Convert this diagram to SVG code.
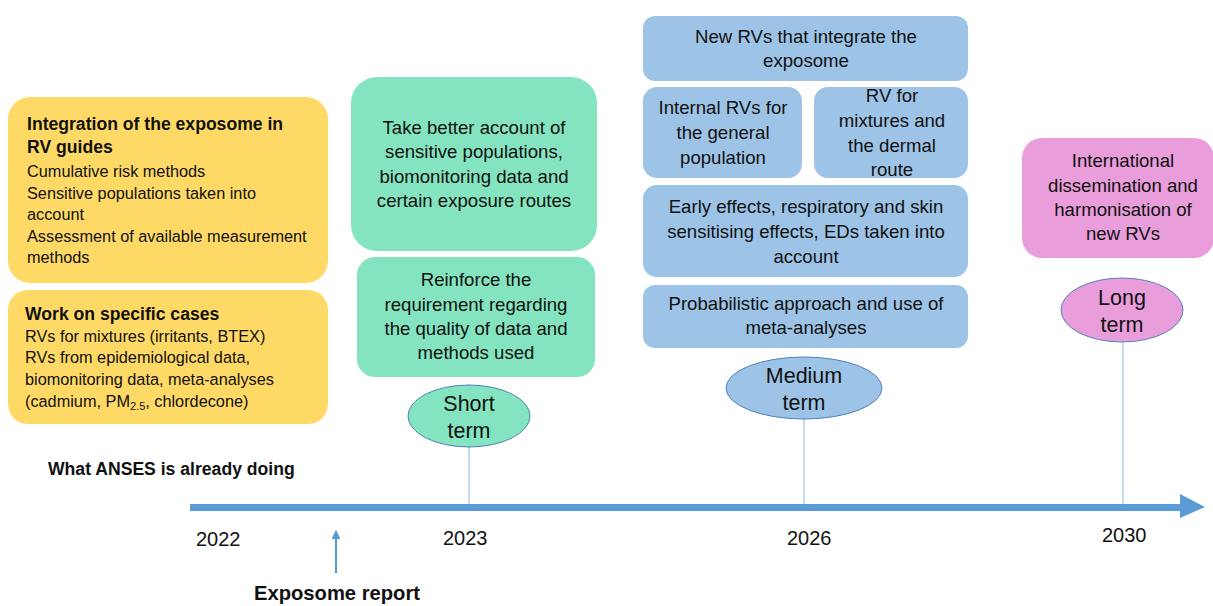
<svg xmlns="http://www.w3.org/2000/svg" width="1213" height="606" viewBox="0 0 1213 606">
<style>
text{font-family:"Liberation Sans",Arial,sans-serif;fill:#111;}
.y{fill:#FFD966;}
.g{fill:#84E4BF;}
.b{fill:#9DC3E6;}
.p{fill:#E99EDB;}
.lt{font-size:16.3px;}
.lb{font-size:17.6px;font-weight:bold;}
.c{font-size:18.6px;text-anchor:middle;}
.e{font-size:21.5px;text-anchor:middle;}
.yr{font-size:20px;}
.hd{font-size:17.6px;font-weight:bold;}
.hd2{font-size:20.2px;font-weight:bold;}
.ell{stroke:#4F81BD;stroke-width:1;}
.tick{stroke:#9DC3E6;stroke-width:1.2;}
</style>
<defs>
<marker id="ah" viewBox="0 0 10 10" refX="9" refY="5" markerWidth="4" markerHeight="4" orient="auto">
<path d="M0,0 L10,5 L0,10 z" fill="#5B9BD5"/>
</marker>
</defs>

<g id="connectors">
<rect x="190" y="504" width="991" height="7" fill="#5B9BD5"/>
<polygon points="1180,494 1205,507 1180,518" fill="#5B9BD5"/>
<line class="tick" x1="469" y1="447" x2="469" y2="504"/>
<line class="tick" x1="804" y1="419" x2="804" y2="504"/>
<line class="tick" x1="1123" y1="342" x2="1123" y2="504"/>
<line x1="336" y1="573" x2="336" y2="531" stroke="#5B9BD5" stroke-width="2.2" marker-end="url(#ah)"/>
</g>

<g id="already-integration">
<rect class="y" x="8" y="97" width="320" height="186" rx="22"/>
<text class="lb" x="27" y="130">Integration of the exposome in</text>
<text class="lb" x="27" y="153">RV guides</text>
<text class="lt" x="27" y="177">Cumulative risk methods</text>
<text class="lt" x="27" y="199">Sensitive populations taken into</text>
<text class="lt" x="27" y="220">account</text>
<text class="lt" x="27" y="242">Assessment of available measurement</text>
<text class="lt" x="27" y="263">methods</text>
</g>

<g id="already-cases">
<rect class="y" x="8" y="290" width="320" height="134" rx="20"/>
<text class="lb" x="25" y="320">Work on specific cases</text>
<text class="lt" x="25" y="342">RVs for mixtures (irritants, BTEX)</text>
<text class="lt" x="25" y="363">RVs from epidemiological data,</text>
<text class="lt" x="25" y="385">biomonitoring data, meta-analyses</text>
<text class="lt" x="25" y="407">(cadmium, PM<tspan font-size="11" dy="3">2.5</tspan><tspan dy="-3">, chlordecone)</tspan></text>
</g>

<g id="short-sensitive">
<rect class="g" x="351" y="77" width="246" height="174" rx="26"/>
<text class="c" x="474" y="134">Take better account of</text>
<text class="c" x="474" y="158">sensitive populations,</text>
<text class="c" x="474" y="183">biomonitoring data and</text>
<text class="c" x="474" y="207">certain exposure routes</text>
</g>

<g id="short-quality">
<rect class="g" x="357" y="257" width="238" height="120" rx="18"/>
<text class="c" x="476" y="286">Reinforce the</text>
<text class="c" x="476" y="311">requirement regarding</text>
<text class="c" x="476" y="335">the quality of data and</text>
<text class="c" x="476" y="359">methods used</text>
</g>

<g id="short-term">
<ellipse class="g ell" cx="469" cy="416" rx="61" ry="31"/>
<text class="e" x="469" y="411">Short</text>
<text class="e" x="469" y="438">term</text>
</g>

<g id="medium-new-rvs">
<rect class="b" x="643" y="16" width="325" height="65" rx="12"/>
<text class="c" x="806" y="43">New RVs that integrate the</text>
<text class="c" x="806" y="67">exposome</text>
</g>

<g id="medium-internal">
<rect class="b" x="643" y="87" width="159" height="91" rx="14"/>
<text class="c" x="723" y="114">Internal RVs for</text>
<text class="c" x="723" y="139">the general</text>
<text class="c" x="723" y="164">population</text>
</g>

<g id="medium-mixtures">
<rect class="b" x="814" y="87" width="154" height="91" rx="14"/>
<text class="c" x="892" y="102">RV for</text>
<text class="c" x="892" y="127">mixtures and</text>
<text class="c" x="892" y="152">the dermal</text>
<text class="c" x="892" y="176">route</text>
</g>

<g id="medium-effects">
<rect class="b" x="643" y="185" width="325" height="92" rx="14"/>
<text class="c" x="806" y="213">Early effects, respiratory and skin</text>
<text class="c" x="806" y="238">sensitising effects, EDs taken into</text>
<text class="c" x="806" y="263">account</text>
</g>

<g id="medium-probabilistic">
<rect class="b" x="643" y="285" width="325" height="63" rx="12"/>
<text class="c" x="806" y="310">Probabilistic approach and use of</text>
<text class="c" x="806" y="334">meta-analyses</text>
</g>

<g id="medium-term">
<ellipse class="b ell" cx="804" cy="388" rx="78" ry="31"/>
<text class="e" x="804" y="383">Medium</text>
<text class="e" x="804" y="410">term</text>
</g>

<g id="long-dissemination">
<rect class="p" x="1022" y="138" width="192" height="120" rx="20"/>
<text class="c" x="1123" y="167">International</text>
<text class="c" x="1123" y="192">dissemination and</text>
<text class="c" x="1123" y="216">harmonisation of</text>
<text class="c" x="1123" y="240">new RVs</text>
</g>

<g id="long-term">
<ellipse class="p ell" cx="1122" cy="310" rx="61" ry="32"/>
<text class="e" x="1122" y="305">Long</text>
<text class="e" x="1122" y="332">term</text>
</g>

<g id="labels">
<text class="hd" x="48" y="475">What ANSES is already doing</text>
<text class="yr" x="196" y="546">2022</text>
<text class="yr" x="443" y="545">2023</text>
<text class="yr" x="787" y="545">2026</text>
<text class="yr" x="1102" y="542">2030</text>
<text class="hd2" x="254" y="600">Exposome report</text>
</g>
</svg>
